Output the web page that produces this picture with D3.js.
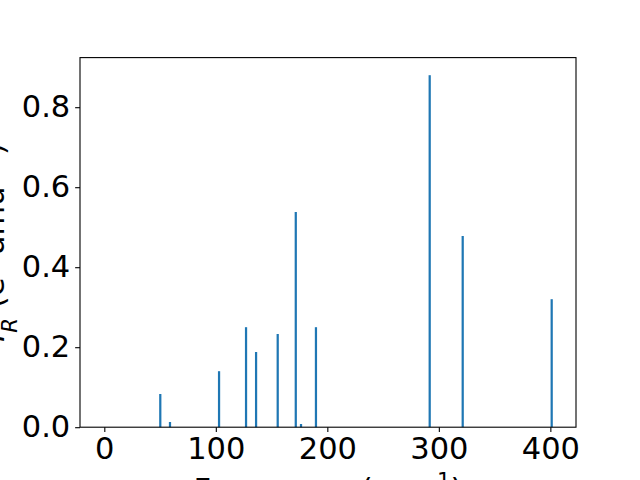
<!DOCTYPE html>
<html>
<head>
<meta charset="utf-8">
<script src="https://cdn.jsdelivr.net/npm/d3@7"></script>
<style>
  body { margin: 0; background: #fff; }
  svg { display: block; font-family: "DejaVu Sans", sans-serif; }
</style>
</head>
<body>
<div id="chart"></div>
<script>
// peak positions (cm^-1) and IR intensities
const freqs = [50.2, 58.9, 102.9, 127.1, 136.1, 155.5, 171.7, 176.4, 189.8, 291.8, 321.4, 401.2];
const intensities = [0.083, 0.013, 0.140, 0.250, 0.188, 0.233, 0.538, 0.008, 0.250, 0.880, 0.478, 0.320];
const xTicks = [0, 100, 200, 300, 400];
const yTicks = [0.0, 0.2, 0.4, 0.6, 0.8];

const width = 640, height = 480;
const margin = { top: 57.6, right: 64, bottom: 52.8, left: 80 };
const fontSize = 30.5;
const barWidth = 2;

const svg = d3.select("#chart").append("svg")
  .attr("width", width)
  .attr("height", height);

const x = d3.scaleLinear()
  .domain([-21.8, 423])
  .range([margin.left, width - margin.right]);

const y = d3.scaleLinear()
  .domain([0, 0.924])
  .range([height - margin.bottom, margin.top]);

const data = freqs.map((f, i) => ({ f, v: intensities[i] }));

// bars
svg.append("g")
  .selectAll("rect")
  .data(data)
  .join("rect")
  .attr("x", d => x(d.f - barWidth / 2))
  .attr("width", d => x(barWidth) - x(0))
  .attr("y", d => y(d.v))
  .attr("height", d => y(0) - y(d.v))
  .attr("fill", "#1f77b4");

// axes
const xAxis = d3.axisBottom(x).tickValues(xTicks).tickSize(4.86).tickPadding(4.86)
  .tickFormat(d3.format("d"));
const yAxis = d3.axisLeft(y).tickValues(yTicks).tickSize(4.86).tickPadding(4.86)
  .tickFormat(d3.format(".1f"));

const gx = svg.append("g")
  .attr("transform", `translate(0,${height - margin.bottom})`)
  .call(xAxis);
const gy = svg.append("g")
  .attr("transform", `translate(${margin.left},0)`)
  .call(yAxis);

[gx, gy].forEach(g => {
  g.select(".domain").remove();
  g.selectAll(".tick line").attr("stroke", "#000").attr("stroke-width", 1.1);
  g.selectAll(".tick text")
    .attr("font-size", fontSize)
    .attr("font-family", "DejaVu Sans")
    .attr("fill", "#000");
});

// frame
svg.append("rect")
  .attr("x", margin.left)
  .attr("y", margin.top)
  .attr("width", width - margin.left - margin.right)
  .attr("height", height - margin.top - margin.bottom)
  .attr("fill", "none")
  .attr("stroke", "#000")
  .attr("stroke-width", 1.1);

// x label
const xl = svg.append("text")
  .attr("x", (margin.left + width - margin.right) / 2)
  .attr("y", 500)
  .attr("text-anchor", "middle")
  .attr("font-size", fontSize);
xl.append("tspan").text("Frequency (cm");
xl.append("tspan").attr("baseline-shift", "super").attr("font-size", fontSize * 0.7).text("\u22121");
xl.append("tspan").text(")");

// y label
const yl = svg.append("text")
  .attr("transform", `translate(4,${(margin.top + height - margin.bottom) / 2}) rotate(-90)`)
  .attr("text-anchor", "middle")
  .attr("font-size", fontSize);
yl.append("tspan").attr("font-style", "italic").text("I");
yl.append("tspan").attr("font-style", "italic").attr("baseline-shift", "sub").attr("font-size", fontSize * 0.7).text("R");
yl.append("tspan").text(" (e");
yl.append("tspan").attr("baseline-shift", "super").attr("font-size", fontSize * 0.7).text("2");
yl.append("tspan").text(" amu");
yl.append("tspan").attr("baseline-shift", "super").attr("font-size", fontSize * 0.7).text("\u22121");
yl.append("tspan").text(")");
</script>
</body>
</html>
